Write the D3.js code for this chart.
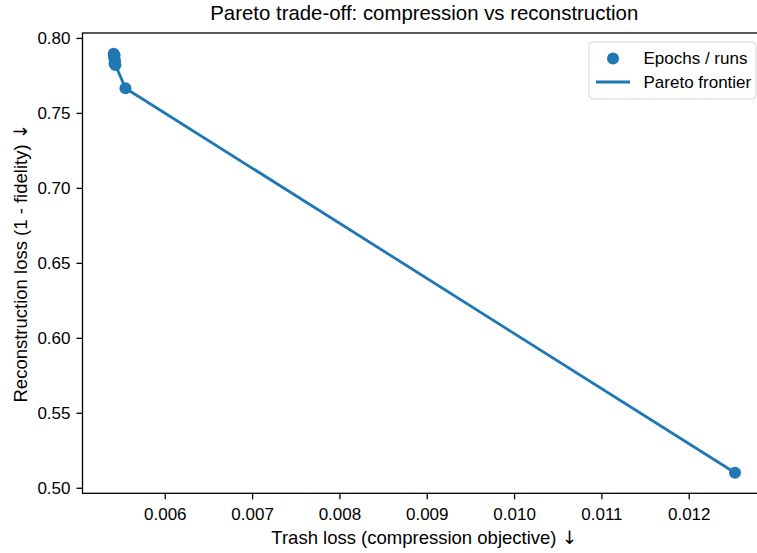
<!DOCTYPE html>
<html lang="en">
  <head>
    <meta charset="UTF-8" />
    <title>Pareto trade-off</title>
    <style>
      body { margin: 0; background: #fff; }
      text { font-family: "Liberation Sans", Arial, sans-serif; fill: #000; }
      .arrow { font-family: "DejaVu Sans", sans-serif; fill: #000; }
    </style>
  </head>
  <body>
    <div class="chart"></div>
    <script src="https://d3js.org/d3.v7.min.js"></script>
    <script>
      // data
      const runX = [0.005415, 0.005425, 0.005420, 0.005430, 0.005425, 0.005435, 0.00555, 0.01253];
      const runY = [0.7895, 0.7885, 0.787, 0.785, 0.783, 0.782, 0.7665, 0.510];
      const frontX = [0.005415, 0.005435, 0.00555, 0.01253];
      const frontY = [0.7895, 0.782, 0.7665, 0.510];
      const xTicks = [0.006, 0.007, 0.008, 0.009, 0.01, 0.011, 0.012];
      const yTicks = [0.5, 0.55, 0.6, 0.65, 0.7, 0.75, 0.8];
      const legendLabels = ["Epochs / runs", "Pareto frontier"];

      const blue = "#1f77b4";
      const tickSize = 17, labelSize = 18.5, titleSize = 20.4;
      const svgWidth = 757, svgHeight = 553;
      const plot = { left: 82.5, right: 766, top: 33, bottom: 493.3 };

      const svg = d3
        .select(".chart")
        .append("svg")
        .attr("width", svgWidth)
        .attr("height", svgHeight);

      // scales (matplotlib-style 5% margins)
      const xScale = d3
        .scaleLinear()
        .domain([0.005058, 0.012885])
        .range([plot.left, plot.right]);
      const yScale = d3
        .scaleLinear()
        .domain([0.4963, 0.8033])
        .range([plot.bottom, plot.top]);

      // axes
      const xAxis = d3.axisBottom(xScale).tickValues(xTicks).tickSize(6).tickPadding(8.5)
        .tickFormat(d3.format(".3f"));
      const yAxis = d3.axisLeft(yScale).tickValues(yTicks).tickSize(6).tickPadding(6)
        .tickFormat(d3.format(".2f"));

      const gx = svg.append("g").attr("transform", `translate(0, ${plot.bottom})`).call(xAxis);
      const gy = svg.append("g").attr("transform", `translate(${plot.left}, 0)`).call(yAxis);
      [gx, gy].forEach((g) => {
        g.select(".domain").remove();
        g.selectAll("line").attr("stroke", "#000").attr("stroke-width", 1.3);
        g.selectAll("text").style("font-size", tickSize + "px").attr("fill", "#000")
          .style("font-family", '"Liberation Sans", Arial, sans-serif');
      });

      // frontier line
      const line = d3.line().x((d) => xScale(d[0])).y((d) => yScale(d[1]));
      svg
        .append("path")
        .datum(d3.zip(frontX, frontY))
        .attr("d", line)
        .attr("fill", "none")
        .attr("stroke", blue)
        .attr("stroke-width", 2.8);

      // runs
      svg
        .append("g")
        .selectAll("circle")
        .data(d3.zip(runX, runY))
        .join("circle")
        .attr("cx", (d) => xScale(d[0]))
        .attr("cy", (d) => yScale(d[1]))
        .attr("r", 6)
        .attr("fill", blue);

      // frame
      svg
        .append("rect")
        .attr("x", plot.left)
        .attr("y", plot.top)
        .attr("width", plot.right - plot.left)
        .attr("height", plot.bottom - plot.top)
        .attr("fill", "none")
        .attr("stroke", "#000")
        .attr("stroke-width", 1.3);

      // legend
      const legend = svg.append("g");
      legend
        .append("rect")
        .attr("x", 589)
        .attr("y", 42)
        .attr("width", 167)
        .attr("height", 57)
        .attr("rx", 4)
        .attr("fill", "#fff")
        .attr("fill-opacity", 0.8)
        .attr("stroke", "#d6d6d6")
        .attr("stroke-width", 1);
      legend.append("circle").attr("cx", 613).attr("cy", 58.5).attr("r", 6).attr("fill", blue);
      legend
        .append("line")
        .attr("x1", 596).attr("x2", 630)
        .attr("y1", 82).attr("y2", 82)
        .attr("stroke", blue).attr("stroke-width", 2.8);
      legend
        .selectAll("text")
        .data(legendLabels)
        .join("text")
        .attr("x", 643.5)
        .attr("y", (d, i) => 58.5 + i * 23.5)
        .attr("dy", "0.35em")
        .style("font-size", tickSize + "px")
        .text((d) => d);

      // titles
      const cx = (plot.left + plot.right) / 2;
      svg.append("text").attr("x", cx).attr("y", 19.5).attr("text-anchor", "middle")
        .style("font-size", titleSize + "px").text("Pareto trade-off: compression vs reconstruction");

      const xLabel = svg.append("text").attr("x", cx).attr("y", 543.5).attr("text-anchor", "middle")
        .style("font-size", labelSize + "px");
      xLabel.append("tspan").text("Trash loss (compression objective) ");
      xLabel.append("tspan").attr("class", "arrow").text("\u2193");

      const yLabel = svg.append("text")
        .attr("transform", `translate(27, ${(plot.top + plot.bottom) / 2}) rotate(-90)`)
        .attr("text-anchor", "middle")
        .style("font-size", labelSize + "px");
      yLabel.append("tspan").text("Reconstruction loss (1 - fidelity) ");
      yLabel.append("tspan").attr("class", "arrow").text("\u2193");
    </script>
  </body>
</html>
